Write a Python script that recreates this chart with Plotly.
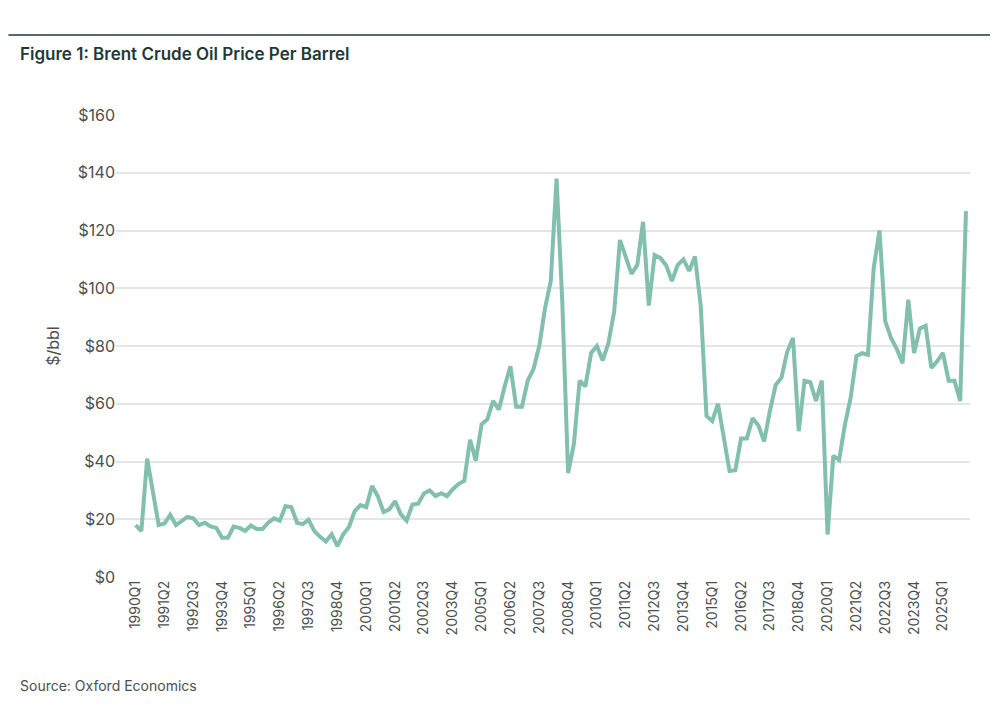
import plotly.graph_objects as go

# quarterly Brent price, 1990Q1 .. 2026Q1
quarters = [f"{y}Q{q}" for y in range(1990, 2027) for q in range(1, 5)][:145]
price = [
    18, 15.9, 41, 29, 18, 18.5, 21.5, 18, 19.5, 20.8, 20.3, 18,
    18.8, 17.5, 17, 13.6, 13.6, 17.5, 17, 16, 17.8, 16.6, 16.6, 18.8,
    20.3, 19.5, 24.5, 24.2, 18.8, 18.3, 19.8, 15.9, 13.9, 12.3, 14.8, 10.7,
    14.8, 17.3, 22.8, 24.9, 24.2, 31.5, 28, 22.5, 23.4, 26.3, 21.7, 19.5,
    25.1, 25.4, 28.9, 30, 28, 29, 28, 30.4, 32.2, 33.3, 47.5, 40.3,
    52.9, 54.6, 61, 58, 66, 73, 59, 59, 68, 72, 80, 93,
    102.5, 138, 95, 36, 46, 68, 66, 77.6, 80, 75, 81, 92,
    116.7, 111, 105, 108, 123, 94, 111.5, 110.5, 108, 102.5, 108, 110,
    106, 111, 94, 55.8, 54, 60, 48, 36.7, 37, 48, 48, 55,
    52.5, 47, 57.5, 66.5, 69, 78, 82.8, 50.5, 68, 67.5, 61, 68,
    14.7, 42, 40.5, 52.7, 62, 76.5, 77.5, 77, 107, 120, 88.6, 82.8,
    79, 74, 96, 77.6, 86, 87, 72.4, 74.7, 77.6, 68, 68, 61, 126.7,
]
tick_idx = list(range(0, 145, 5))[:29]
tick_text = [quarters[i] for i in tick_idx]
y_ticks = list(range(0, 161, 20))
y_text = [f"${v}" for v in y_ticks]

fig = go.Figure()
fig.add_trace(go.Scatter(
    x=list(range(len(price))), y=price, mode="lines",
    line=dict(color="#82bfae", width=4), hoverinfo="y",
))

fig.update_layout(
    width=998, height=712,
    margin=dict(l=108, r=36, t=107, b=143, autoexpand=False),
    paper_bgcolor="white", plot_bgcolor="white",
    font=dict(family="Inter, Lato, sans-serif", color="#4a4f4f"),
    showlegend=False,
    xaxis=dict(
        range=[-3.4, 144.7], tickmode="array", tickvals=tick_idx, ticktext=tick_text,
        tickangle=-90, tickfont=dict(size=14), showgrid=False, zeroline=False,
        ticks="", showline=False,
    ),
    yaxis=dict(
        range=[0, 160], tickmode="array", tickvals=y_ticks, ticktext=y_text,
        tickfont=dict(size=16), gridcolor="#e3e6e5", gridwidth=1.5, zeroline=False,
        title=dict(text="$/bbl", font=dict(size=16), standoff=14),
    ),
    shapes=[dict(type="line", xref="paper", yref="paper", x0=-0.126, x1=1.031,
                 y0=1.173, y1=1.173, line=dict(color="#1f3a35", width=1.5))],
    annotations=[
        dict(text="Figure 1: Brent Crude Oil Price Per Barrel", xref="paper", yref="paper",
             x=-0.115, y=1.131, xanchor="left", yanchor="middle", showarrow=False,
             font=dict(size=17, color="#1f3a35", weight=600)),
        dict(text="Source: Oxford Economics", xref="paper", yref="paper",
             x=-0.115, y=-0.235, xanchor="left", yanchor="middle", showarrow=False,
             font=dict(size=14, color="#4a4f4f")),
    ],
)

fig.write_html("out.html")
